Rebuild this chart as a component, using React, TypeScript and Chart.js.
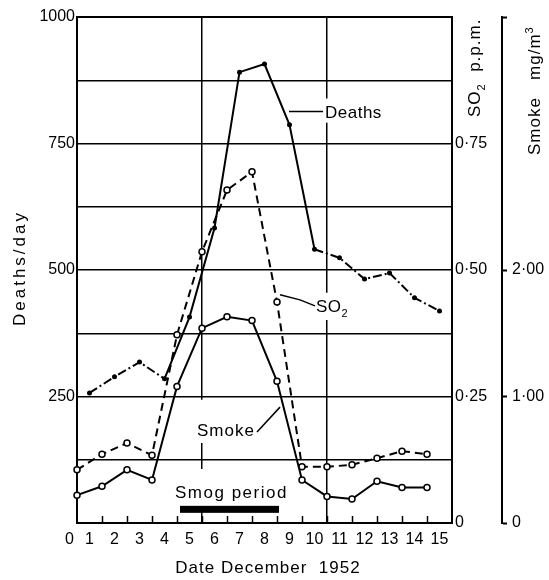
import { useEffect, useRef } from "react";
import { Chart, registerables } from "chart.js";

Chart.register(...registerables);

// ---------------- data ----------------
const DEATH_DAYS = [1, 2, 3, 4, 5, 6, 7, 8, 9, 10, 11, 12, 13, 14, 15];
const DEATHS_PER_DAY = [257, 289, 318, 285, 407, 583, 891, 907, 787, 541, 524, 482, 494, 445, 419];

const POLLUTION_DAYS = [0.5, 1.5, 2.5, 3.5, 4.5, 5.5, 6.5, 7.5, 8.5, 9.5, 10.5, 11.5, 12.5, 13.5, 14.5];
const SO2_PPM = [0.105, 0.136, 0.158, 0.134, 0.372, 0.536, 0.658, 0.694, 0.437, 0.111, 0.111, 0.115, 0.128, 0.142, 0.136];
const SMOKE_MG_M3 = [0.22, 0.29, 0.42, 0.34, 1.08, 1.54, 1.63, 1.6, 1.12, 0.34, 0.21, 0.19, 0.33, 0.28, 0.28];

const SMOG_PERIOD_DAYS = [4.62, 8.58];

const X_LABEL_DAYS = [0, 1, 2, 3, 4, 5, 6, 7, 8, 9, 10, 11, 12, 13, 14, 15];
const DAY_BOUNDARIES = [0.5, 1.5, 2.5, 3.5, 4.5, 5.5, 6.5, 7.5, 8.5, 9.5, 10.5, 11.5, 12.5, 13.5, 14.5, 15.5];
const VERTICAL_GRID_DAYS = [5.5, 10.5];

const DEATH_TICKS = [0, 125, 250, 375, 500, 625, 750, 875, 1000];
const DEATH_TICK_LABELS = ["", "", "250", "", "500", "", "750", "", "1000"];
const SO2_TICKS = [0, 0.25, 0.5, 0.75, 1];
const SO2_TICK_LABELS = ["0", "0·25", "0·50", "0·75", ""];
const SMOKE_TICKS = [0, 1, 2, 4];
const SMOKE_TICK_LABELS = ["0", "1·00", "2·00", ""];

// ---------------- style / layout ----------------
const FONT = "'Liberation Sans', Arial, sans-serif";
const ZERO_LABEL_POS = 0.2; // the "0" date label sits left of the axis
const INK = "#000";

type Part = { text: string; sub?: boolean; sup?: boolean };

function setFont(ctx: CanvasRenderingContext2D, size: number, spacing: number) {
  ctx.font = `${size}px ${FONT}`;
  (ctx as any).letterSpacing = `${spacing}px`;
}

function partSize(p: Part, size: number) {
  return p.sub || p.sup ? Math.round(size * 0.65) : size;
}

function partsWidth(ctx: CanvasRenderingContext2D, parts: Part[], size: number, spacing: number) {
  let w = 0;
  for (const p of parts) {
    setFont(ctx, partSize(p, size), spacing);
    w += ctx.measureText(p.text).width;
  }
  return w;
}

function drawParts(ctx: CanvasRenderingContext2D, parts: Part[], x: number, y: number, size: number, spacing: number) {
  ctx.textAlign = "left";
  ctx.textBaseline = "alphabetic";
  ctx.fillStyle = INK;
  let cx = x;
  for (const p of parts) {
    setFont(ctx, partSize(p, size), spacing);
    const dy = p.sub ? size * 0.3 : p.sup ? -size * 0.42 : 0;
    ctx.fillText(p.text, cx, y + dy);
    cx += ctx.measureText(p.text).width;
  }
}

type PlotLabel = {
  parts: Part[];
  day: number;
  value: number;
  size: number;
  spacing: number;
  padTop: number;
  padBottom: number;
  padX: number;
};

const PLOT_LABELS: PlotLabel[] = [
  { parts: [{ text: "Deaths" }], day: 10.42, value: 801, size: 17, spacing: 0.5, padTop: 7, padBottom: 5, padX: 3 },
  { parts: [{ text: "SO" }, { text: "2", sub: true }], day: 10.06, value: 417, size: 17, spacing: 0.5, padTop: 7, padBottom: 8, padX: 3 },
  { parts: [{ text: "Smoke" }], day: 5.3, value: 172, size: 17, spacing: 1, padTop: 24, padBottom: 7, padX: 4 },
  { parts: [{ text: "Smog period" }], day: 4.42, value: 49, size: 17, spacing: 1.5, padTop: 17, padBottom: 8, padX: 4 },
];

const LEADERS: number[][][] = [
  [[8.98, 813], [10.34, 813]],
  [[8.62, 451], [9.42, 441], [10.02, 429]],
  [[7.7, 180], [8.62, 229]],
];

const SMOG_BAR_VALUE = 27;

const annotationPlugin = {
  id: "smogAnnotations",
  beforeDatasetsDraw(chart: any) {
    const ctx: CanvasRenderingContext2D = chart.ctx;
    const xs = chart.scales.x;
    const ys = chart.scales.y;
    const area = chart.chartArea;
    ctx.save();
    // white knock-out boxes behind the in-plot labels
    ctx.fillStyle = "#fff";
    for (const l of PLOT_LABELS) {
      const px = xs.getPixelForValue(l.day);
      const py = ys.getPixelForValue(l.value);
      const w = partsWidth(ctx, l.parts, l.size, l.spacing);
      const cap = l.size * 0.72;
      ctx.fillRect(px - l.padX, py - cap - l.padTop, w + 2 * l.padX, cap + l.padTop + l.padBottom);
    }
    // inward tick marks at the day boundaries
    ctx.strokeStyle = INK;
    ctx.lineWidth = 1.5;
    ctx.beginPath();
    for (const d of DAY_BOUNDARIES) {
      const px = Math.round(xs.getPixelForValue(d)) + 0.5;
      if (px <= area.left + 2 || px >= area.right - 2) continue;
      ctx.moveTo(px, area.bottom);
      ctx.lineTo(px, area.bottom - 7);
    }
    ctx.stroke();
    ctx.restore();
  },
  afterDatasetsDraw(chart: any) {
    const ctx: CanvasRenderingContext2D = chart.ctx;
    const xs = chart.scales.x;
    const ys = chart.scales.y;
    ctx.save();
    for (const l of PLOT_LABELS) {
      const px = xs.getPixelForValue(l.day);
      const py = ys.getPixelForValue(l.value);
      drawParts(ctx, l.parts, px, py, l.size, l.spacing);
    }
    ctx.strokeStyle = INK;
    ctx.lineWidth = 1.5;
    for (const ln of LEADERS) {
      ctx.beginPath();
      ln.forEach(([d, v], i) => {
        const px = xs.getPixelForValue(d);
        const py = ys.getPixelForValue(v);
        if (i === 0) ctx.moveTo(px, py);
        else ctx.lineTo(px, py);
      });
      ctx.stroke();
    }
    // smog period bar
    const x0 = xs.getPixelForValue(SMOG_PERIOD_DAYS[0]);
    const x1 = xs.getPixelForValue(SMOG_PERIOD_DAYS[1]);
    const yb = ys.getPixelForValue(SMOG_BAR_VALUE);
    ctx.fillStyle = INK;
    ctx.fillRect(x0, yb - 3.5, x1 - x0, 7);
    ctx.restore();
  },
  afterDraw(chart: any) {
    const ctx: CanvasRenderingContext2D = chart.ctx;
    ctx.save();
    // left title
    const leftParts: Part[] = [{ text: "Deaths/day" }];
    const lw = partsWidth(ctx, leftParts, 17, 3);
    ctx.save();
    ctx.translate(25, 268);
    ctx.rotate(-Math.PI / 2);
    drawParts(ctx, leftParts, -lw / 2, 0, 17, 3);
    ctx.restore();
    // SO2 title
    ctx.save();
    ctx.translate(480, 117);
    ctx.rotate(-Math.PI / 2);
    drawParts(ctx, [{ text: "SO" }, { text: "2", sub: true }, { text: "  p.p.m." }], 0, 0, 17, 1);
    ctx.restore();
    // Smoke title
    ctx.save();
    ctx.translate(540, 155);
    ctx.rotate(-Math.PI / 2);
    drawParts(ctx, [{ text: "Smoke" }, { text: "   mg/m" }, { text: "3", sup: true }], 0, 0, 17, 1);
    ctx.restore();
    // bottom title
    const bottomParts: Part[] = [{ text: "Date December  1952" }];
    const bw = partsWidth(ctx, bottomParts, 17, 1);
    drawParts(ctx, bottomParts, 268 - bw / 2, 573, 17, 1);
    ctx.restore();
  },
};

export default function App() {
  const ref = useRef<HTMLCanvasElement>(null);

  useEffect(() => {
    const canvas = ref.current;
    if (!canvas) return;
    Chart.defaults.font.family = FONT;
    Chart.defaults.color = INK;

    const tickFont = { family: FONT, size: 16 };

    const chart = new Chart(canvas, {
      type: "line",
      data: {
        datasets: [
          {
            label: "Deaths",
            data: DEATH_DAYS.map((d, i) => ({ x: d, y: DEATHS_PER_DAY[i] })),
            xAxisID: "x",
            yAxisID: "y",
            borderColor: INK,
            backgroundColor: INK,
            borderWidth: 2,
            pointRadius: 2.5,
            pointBackgroundColor: INK,
            pointBorderWidth: 0,
            tension: 0,
            clip: false,
            segment: {
              borderDash: (c: any) => (c.p0.parsed.x < 4 || c.p0.parsed.x >= 10 ? [9, 3, 2, 3] : undefined),
            },
          } as any,
          {
            label: "SO2",
            data: POLLUTION_DAYS.map((d, i) => ({ x: d, y: SO2_PPM[i] })),
            xAxisID: "x",
            yAxisID: "so2",
            borderColor: INK,
            backgroundColor: "#fff",
            borderWidth: 2,
            borderDash: [8, 5],
            pointRadius: 3,
            pointBackgroundColor: "#fff",
            pointBorderColor: INK,
            pointBorderWidth: 1.5,
            tension: 0,
            clip: false,
          } as any,
          {
            label: "Smoke",
            data: POLLUTION_DAYS.map((d, i) => ({ x: d, y: SMOKE_MG_M3[i] })),
            xAxisID: "x",
            yAxisID: "smoke",
            borderColor: INK,
            backgroundColor: "#fff",
            borderWidth: 2,
            pointRadius: 3,
            pointBackgroundColor: "#fff",
            pointBorderColor: INK,
            pointBorderWidth: 1.5,
            tension: 0,
            clip: false,
          } as any,
        ],
      },
      options: {
        responsive: false,
        animation: false,
        devicePixelRatio: 1,
        layout: { padding: { top: 17, left: 0, right: 0, bottom: 0 } },
        plugins: {
          legend: { display: false },
          tooltip: { enabled: false },
          title: { display: false },
        },
        scales: {
          x: {
            type: "linear",
            position: "bottom",
            min: 0.5,
            max: 15.5,
            offset: false,
            afterBuildTicks: (axis: any) => {
              const vals = [ZERO_LABEL_POS, ...X_LABEL_DAYS.filter((d) => d > 0), ...DAY_BOUNDARIES];
              vals.sort((a, b) => a - b);
              axis.ticks = vals.map((v) => ({ value: v }));
            },
            afterFit: (axis: any) => {
              axis.height = 57;
            },
            ticks: {
              autoSkip: false,
              maxRotation: 0,
              minRotation: 0,
              padding: 7,
              font: tickFont,
              color: INK,
              callback: (v: any) => {
                if (v === ZERO_LABEL_POS) return String(X_LABEL_DAYS[0]);
                return Number.isInteger(v) && X_LABEL_DAYS.includes(v) ? String(v) : "";
              },
            },
            grid: {
              drawTicks: false,
              lineWidth: 1.5,
              color: (c: any) =>
                c.tick && VERTICAL_GRID_DAYS.includes(c.tick.value) ? INK : "rgba(0,0,0,0)",
            },
            border: { display: true, color: INK, width: 2 },
          },
          y: {
            type: "linear",
            position: "left",
            min: 0,
            max: 1000,
            afterBuildTicks: (axis: any) => {
              axis.ticks = DEATH_TICKS.map((v) => ({ value: v }));
            },
            afterFit: (axis: any) => {
              axis.width = 77;
            },
            ticks: {
              padding: 2,
              font: tickFont,
              color: INK,
              callback: (v: any) => DEATH_TICK_LABELS[DEATH_TICKS.indexOf(v)] ?? "",
            },
            grid: {
              drawTicks: false,
              color: INK,
              lineWidth: (c: any) => (c.tick && c.tick.value === 1000 ? 2 : 1.5),
            },
            border: { display: true, color: INK, width: 2 },
          },
          so2: {
            type: "linear",
            position: "right",
            min: 0,
            max: 1,
            afterBuildTicks: (axis: any) => {
              axis.ticks = SO2_TICKS.map((v) => ({ value: v }));
            },
            afterFit: (axis: any) => {
              axis.width = 50;
            },
            ticks: {
              padding: 3,
              font: tickFont,
              color: INK,
              callback: (v: any) => SO2_TICK_LABELS[SO2_TICKS.indexOf(v)] ?? "",
            },
            grid: { drawOnChartArea: false, drawTicks: false },
            border: { display: true, color: INK, width: 2 },
          },
          smoke: {
            type: "linear",
            position: "right",
            min: 0,
            max: 4,
            afterBuildTicks: (axis: any) => {
              axis.ticks = SMOKE_TICKS.map((v) => ({ value: v }));
            },
            afterFit: (axis: any) => {
              axis.width = 47;
            },
            ticks: {
              padding: 5,
              font: tickFont,
              color: INK,
              callback: (v: any) => SMOKE_TICK_LABELS[SMOKE_TICKS.indexOf(v)] ?? "",
            },
            grid: {
              drawOnChartArea: false,
              drawTicks: true,
              tickLength: 5,
              tickWidth: 2,
              tickColor: INK,
              color: INK,
            },
            border: { display: true, color: INK, width: 2 },
          },
        },
      } as any,
      plugins: [annotationPlugin],
    });

    return () => chart.destroy();
  }, []);

  return (
    <div style={{ position: "absolute", left: 0, top: 0, width: 549, height: 580, background: "#fff" }}>
      <canvas ref={ref} width={549} height={580} style={{ display: "block", width: 549, height: 580 }} />
    </div>
  );
}
